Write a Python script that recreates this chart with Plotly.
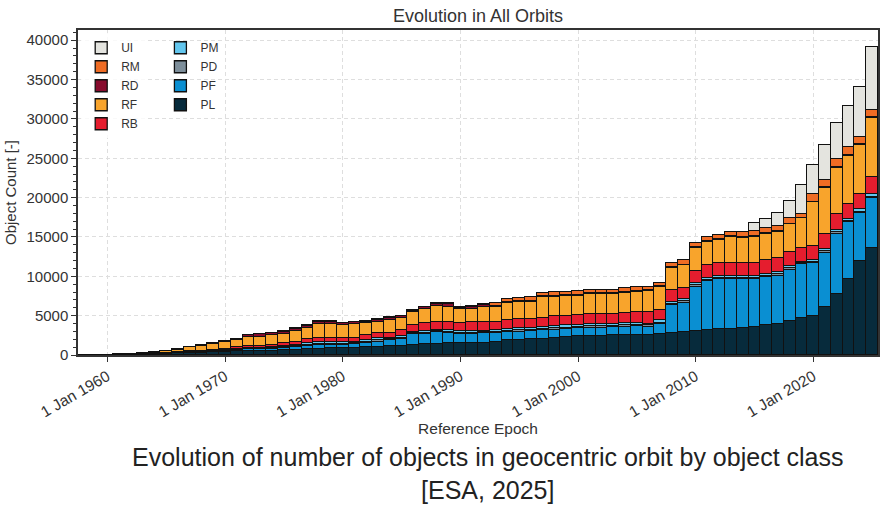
import plotly.graph_objects as go

years = list(range(1958, 2026))

PL = [2, 5, 12, 25, 45, 70, 110, 150, 200, 260, 310, 360, 430, 480, 520, 540, 560, 600, 680, 750,
      800, 850, 900, 950, 975, 1020, 1140, 1190, 1270, 1360, 1400, 1480, 1480, 1570, 1570, 1700, 1910, 1910,
      1990, 1990, 2120, 2250, 2420, 2420, 2460, 2500, 2540, 2540, 2540, 2710, 2840, 2930, 3050, 3140,
      3260, 3350, 3480, 3600, 3770, 3900, 4320, 4660, 4960, 6110, 7720, 9710, 11960, 13570]
PF = [0, 0, 2, 5, 10, 15, 25, 35, 45, 60, 80, 100, 130, 170, 210, 230, 250, 250, 280, 390,
      470, 420, 410, 450, 505, 680, 770, 800, 1400, 1310, 1570, 1360, 1190, 1100, 1190, 1060, 970, 1060,
      1060, 1190, 1060, 1000, 970, 1060, 1020, 1020, 1060, 1150, 1060, 1190, 3520, 3730, 5640, 6270,
      6360, 6270, 6140, 6020, 6150, 6150, 6450, 6870, 6700, 6910, 7710, 7250, 6060, 6360]
PD = [0, 0, 0, 0, 0, 0, 5, 5, 10, 15, 15, 20, 25, 40, 50, 60, 70, 110, 130, 140,
      140, 140, 120, 120, 180, 170, 120, 180, 110, 180, 90, 140, 160, 160, 140, 170, 180, 170,
      180, 140, 210, 200, 180, 190, 190, 190, 180, 170, 160, 210, 180, 180, 180, 160,
      180, 180, 180, 180, 140, 230, 230, 140, 150, 170, 170, 120, 200, 200]
PM = [0, 0, 0, 0, 0, 0, 5, 10, 10, 15, 20, 25, 30, 60, 80, 90, 100, 170, 200, 200,
      200, 200, 180, 180, 250, 250, 170, 250, 150, 250, 120, 200, 220, 220, 200, 250, 250, 250,
      250, 200, 300, 300, 250, 270, 270, 270, 250, 250, 230, 300, 240, 240, 250, 220,
      250, 250, 250, 250, 200, 320, 320, 200, 230, 250, 260, 180, 310, 310]
RB = [1, 3, 8, 15, 25, 35, 50, 70, 90, 120, 140, 170, 200, 230, 260, 280, 310, 340, 390, 520,
      510, 510, 510, 510, 630, 640, 640, 760, 890, 930, 1060, 970, 980, 1100, 1140, 1060, 1140, 1150,
      1100, 1140, 1270, 1270, 1270, 1280, 1280, 1280, 1270, 1400, 1450, 1310, 1450, 1400, 1560, 1610,
      1610, 1690, 1690, 1690, 1780, 1700, 1820, 1700, 1820, 1910, 2030, 1990, 1990, 2120]
RF = [2, 4, 15, 40, 60, 80, 160, 240, 320, 510, 610, 700, 840, 900, 1120, 1150, 1230, 1190, 1350, 1390,
      1780, 1820, 1650, 1690, 1490, 1480, 1610, 1480, 1610, 1780, 2040, 2000, 1780, 1750, 1910, 1910, 2120, 2160,
      2200, 2680, 2460, 2450, 2410, 2500, 2500, 2510, 2630, 2550, 2700, 2970, 2880, 2920, 2970, 3020,
      2970, 3270, 3140, 3300, 3340, 3370, 3460, 3800, 5540, 5920, 5840, 6090, 6180, 7610]
RD = [0, 0, 2, 5, 10, 10, 25, 40, 45, 80, 95, 115, 125, 110, 270, 290, 290, 300, 300, 340,
      330, 290, 290, 280, 220, 220, 250, 250, 200, 240, 260, 280, 200, 230, 190, 120, 120, 120,
      130, 130, 130, 130, 140, 120, 120, 120, 120, 130, 100, 100, 100, 100, 100, 100,
      100, 100, 100, 100, 100, 100, 100, 100, 100, 100, 100, 100, 100, 100]
RM = [0, 0, 0, 0, 0, 0, 0, 0, 0, 0, 0, 0, 0, 0, 30, 30, 30, 40, 40, 40,
      50, 50, 50, 50, 70, 80, 90, 90, 90, 100, 120, 140, 140, 150, 150, 390, 390, 390,
      430, 460, 460, 440, 500, 430, 430, 430, 430, 500, 410, 410, 450, 540, 540, 530,
      570, 580, 620, 630, 630, 640, 680, 510, 940, 930, 1020, 930, 930, 850]
UI = [0] * 57 + [980, 1150, 1690, 2210, 3600, 3730, 4410, 4580, 5300, 6270, 8060]

series = [
    ("PL", PL, "#072b3c", "legend2"),
    ("PF", PF, "#0a8fd2", "legend2"),
    ("PD", PD, "#7d8e9a", "legend2"),
    ("PM", PM, "#62c6ee", "legend2"),
    ("RB", RB, "#e51d2e", "legend"),
    ("RF", RF, "#f8a42c", "legend"),
    ("RD", RD, "#870b2d", "legend"),
    ("RM", RM, "#ef6c24", "legend"),
    ("UI", UI, "#e4e4df", "legend"),
]

x_dates = [f"{y}-01-01" for y in years]
year_ms = 365.25 * 24 * 3600 * 1000

fig = go.Figure()
for name, vals, color, leg in series:
    fig.add_trace(go.Bar(
        x=x_dates, y=vals, name=name, width=year_ms,
        marker=dict(color=color, line=dict(color="#111111", width=1.3)),
        legend=leg,
    ))

font_family = "Liberation Sans, Arial, sans-serif"

fig.update_layout(
    width=890, height=508,
    margin=dict(l=77, r=10, t=30, b=153),
    barmode="stack", bargap=0,
    plot_bgcolor="white", paper_bgcolor="white",
    font=dict(family=font_family, color="#333333", size=13),
    title=dict(text="Evolution in All Orbits", x=0.5, xref="paper", xanchor="center",
               y=1 - 16 / 508, yref="container", yanchor="middle",
               font=dict(size=18, color="#333333")),
    legend=dict(x=0.004, y=0.99, xanchor="left", yanchor="top", traceorder="reversed",
                bgcolor="rgba(255,255,255,0.8)", font=dict(size=12), tracegroupgap=0),
    legend2=dict(x=0.103, y=0.99, xanchor="left", yanchor="top", traceorder="reversed",
                 bgcolor="rgba(0,0,0,0)", font=dict(size=12), tracegroupgap=0),
    showlegend=True,
    annotations=[dict(
        text="Evolution of number of objects in geocentric orbit by object class<br>[ESA, 2025]",
        xref="paper", yref="paper", x=0.513, y=-0.366, xanchor="center", yanchor="middle",
        showarrow=False, font=dict(size=25, color="#222222", family=font_family),
    )],
)

fig.update_xaxes(
    type="date", range=["1957-07-02", "2025-07-02"],
    tick0="1960-01-01", dtick="M120", tickformat="%-d %b %Y", tickangle=-30,
    ticks="outside", ticklen=5, tickcolor="#333333", tickfont=dict(size=15.5),
    showline=True, linecolor="#333333", linewidth=1.5, mirror=True,
    showgrid=True, gridcolor="#dedede", griddash="4px,3px", gridwidth=1,
    title=dict(text="Reference Epoch", font=dict(size=15.5), standoff=0),
)
fig.update_yaxes(
    range=[0, 41300], dtick=5000, tick0=0, tickformat="d",
    ticks="outside", ticklen=5, tickcolor="#333333", tickfont=dict(size=15),
    minor=dict(dtick=1000, ticks="outside", ticklen=3, tickcolor="#333333", showgrid=False),
    showline=True, linecolor="#333333", linewidth=1.5, mirror=True,
    showgrid=True, gridcolor="#dedede", griddash="4px,3px", gridwidth=1,
    title=dict(text="Object Count [-]", font=dict(size=15), standoff=6),
    zeroline=False,
)

fig.write_html("out.html")
